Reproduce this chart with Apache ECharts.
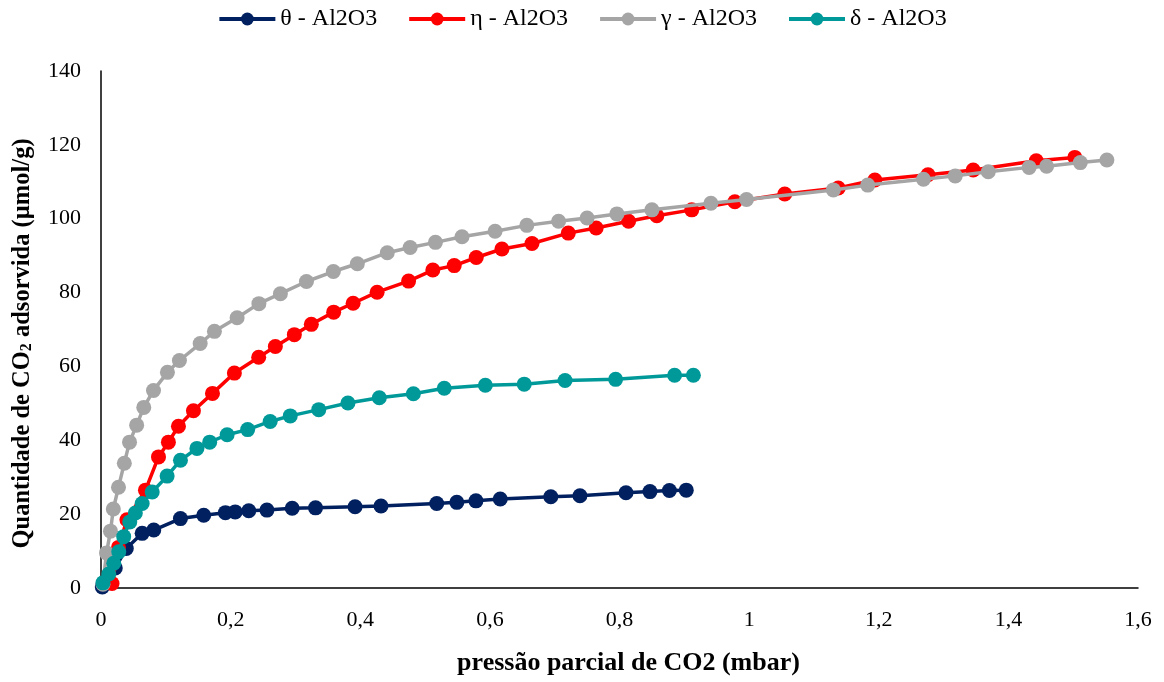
<!DOCTYPE html>
<html>
<head>
<meta charset="utf-8">
<script src="https://cdn.jsdelivr.net/npm/echarts@6/dist/echarts.min.js"></script>
<style>
  html, body { margin: 0; padding: 0; background: #fff; }
  #chart { width: 1164px; height: 682px; }
</style>
</head>
<body>
<div id="chart"></div>
<script>
// CO2 adsorption isotherms on alumina phases: [partial pressure (mbar), amount adsorbed (µmol/g)]
const seriesNames = ['θ - Al2O3', 'η - Al2O3', 'γ - Al2O3', 'δ - Al2O3'];
const seriesColors = ['#002060', '#FF0000', '#A5A5A5', '#009999'];

const thetaData = [
  [0.002, 0.3], [0.022, 5.4], [0.039, 10.7], [0.0635, 14.8], [0.0814, 15.7],
  [0.1226, 18.8], [0.1585, 19.7], [0.192, 20.4], [0.207, 20.6], [0.228, 20.9],
  [0.256, 21.1], [0.295, 21.6], [0.331, 21.7], [0.392, 22.0], [0.432, 22.2],
  [0.518, 22.9], [0.549, 23.2], [0.5785, 23.6], [0.616, 24.1], [0.694, 24.7],
  [0.739, 25.0], [0.810, 25.8], [0.847, 26.1], [0.877, 26.4], [0.903, 26.5]
];

const etaData = [
  [0.017, 1.2], [0.027, 11.0], [0.040, 18.5], [0.0686, 26.5], [0.0887, 35.5],
  [0.104, 39.5], [0.1195, 43.8], [0.1426, 48.0], [0.172, 52.7], [0.2058, 58.2],
  [0.2433, 62.5], [0.269, 65.4], [0.2983, 68.6], [0.3245, 71.4], [0.359, 74.7],
  [0.389, 77.1], [0.426, 80.1], [0.4746, 83.1], [0.512, 86.1], [0.545, 87.3],
  [0.579, 89.5], [0.6186, 91.8], [0.665, 93.3], [0.721, 96.1], [0.764, 97.5],
  [0.814, 99.3], [0.8576, 100.8], [0.9115, 102.4], [0.978, 104.6], [1.055, 106.7],
  [1.1375, 108.3], [1.194, 110.5], [1.276, 111.9], [1.3457, 113.2], [1.443, 115.7],
  [1.5025, 116.6]
];

const gammaData = [
  [0.003, 1.0], [0.0085, 9.5], [0.0146, 15.4], [0.019, 21.4], [0.027, 27.3],
  [0.036, 33.8], [0.044, 39.5], [0.055, 44.1], [0.066, 48.9], [0.081, 53.5],
  [0.1025, 58.4], [0.121, 61.6], [0.153, 66.2], [0.175, 69.5], [0.210, 73.2],
  [0.2436, 77.0], [0.2768, 79.7], [0.317, 83.0], [0.3585, 85.7], [0.3955, 87.8],
  [0.4417, 90.8], [0.477, 92.2], [0.516, 93.6], [0.557, 95.1], [0.608, 96.6],
  [0.657, 98.2], [0.706, 99.3], [0.750, 100.2], [0.796, 101.3], [0.850, 102.4],
  [0.941, 104.2], [0.996, 105.2], [1.130, 107.8], [1.183, 109.1], [1.269, 110.7],
  [1.318, 111.6], [1.369, 112.7], [1.432, 113.9], [1.459, 114.2], [1.511, 115.2],
  [1.552, 115.9]
];

const deltaData = [
  [0.003, 1.4], [0.012, 3.8], [0.0197, 6.7], [0.0274, 9.8], [0.035, 13.9],
  [0.0444, 17.9], [0.053, 20.3], [0.0635, 22.9], [0.079, 26.0], [0.102, 30.3],
  [0.1226, 34.6], [0.148, 37.8], [0.1677, 39.5], [0.1946, 41.5], [0.2263, 42.9],
  [0.261, 45.1], [0.292, 46.6], [0.336, 48.3], [0.381, 50.1], [0.4294, 51.5],
  [0.482, 52.6], [0.5296, 54.1], [0.593, 54.9], [0.653, 55.2], [0.716, 56.2],
  [0.794, 56.5], [0.885, 57.6], [0.914, 57.6]
];

const allData = [thetaData, etaData, gammaData, deltaData];

const xTickFormat = v => String(+v.toFixed(1)).replace('.', ',');
const serif = '"Liberation Serif", "Times New Roman", serif';

const chart = echarts.init(document.getElementById('chart'), null, { renderer: 'canvas' });

chart.setOption({
  backgroundColor: '#ffffff',
  animation: false,
  legend: {
    top: 2,
    left: 'center',
    itemWidth: 56,
    itemHeight: 16,
    itemGap: 30,
    lineStyle: { width: 4 },
    textStyle: { fontFamily: serif, fontSize: 24, color: '#000' },
    data: seriesNames
  },
  grid: { left: 101, right: 26, top: 71, bottom: 94, containLabel: false, outerBoundsMode: 'none' },
  xAxis: {
    type: 'value',
    min: 0,
    max: 1.6,
    interval: 0.2,
    name: 'pressão parcial de CO2 (mbar)',
    nameLocation: 'middle',
    nameGap: 62,
    nameTextStyle: { fontFamily: serif, fontSize: 26, fontWeight: 'bold', color: '#000', padding: [0, 0, 0, 18] },
    axisLine: { show: true, lineStyle: { color: '#000', width: 1.5 } },
    axisTick: { show: false },
    splitLine: { show: false },
    axisLabel: { formatter: xTickFormat, fontFamily: serif, fontSize: 22, color: '#000', margin: 21 }
  },
  yAxis: {
    type: 'value',
    min: 0,
    max: 140,
    interval: 20,
    name: '{b|Quantidade de CO}{s|2}{b| adsorvida (µmol/g)}',
    nameLocation: 'middle',
    nameGap: 66,
    nameTextStyle: {
      padding: [0, 28, 0, 0],
      rich: {
        b: { fontFamily: serif, fontSize: 24.5, fontWeight: 'bold', color: '#000', lineHeight: 28, verticalAlign: 'bottom' },
        s: { fontFamily: serif, fontSize: 16, fontWeight: 'bold', color: '#000', lineHeight: 16, verticalAlign: 'bottom' }
      }
    },
    axisLine: { show: true, lineStyle: { color: '#000', width: 1.5 } },
    axisTick: { show: false },
    splitLine: { show: false },
    axisLabel: { fontFamily: serif, fontSize: 22, color: '#000', margin: 20 }
  },
  series: seriesNames.map((name, i) => ({
    name: name,
    type: 'line',
    data: allData[i],
    symbol: 'circle',
    symbolSize: 15,
    showSymbol: true,
    color: seriesColors[i],
    lineStyle: { width: 3.5, color: seriesColors[i] },
    itemStyle: { color: seriesColors[i] },
    z: 2 + i
  }))
});
</script>
</body>
</html>
